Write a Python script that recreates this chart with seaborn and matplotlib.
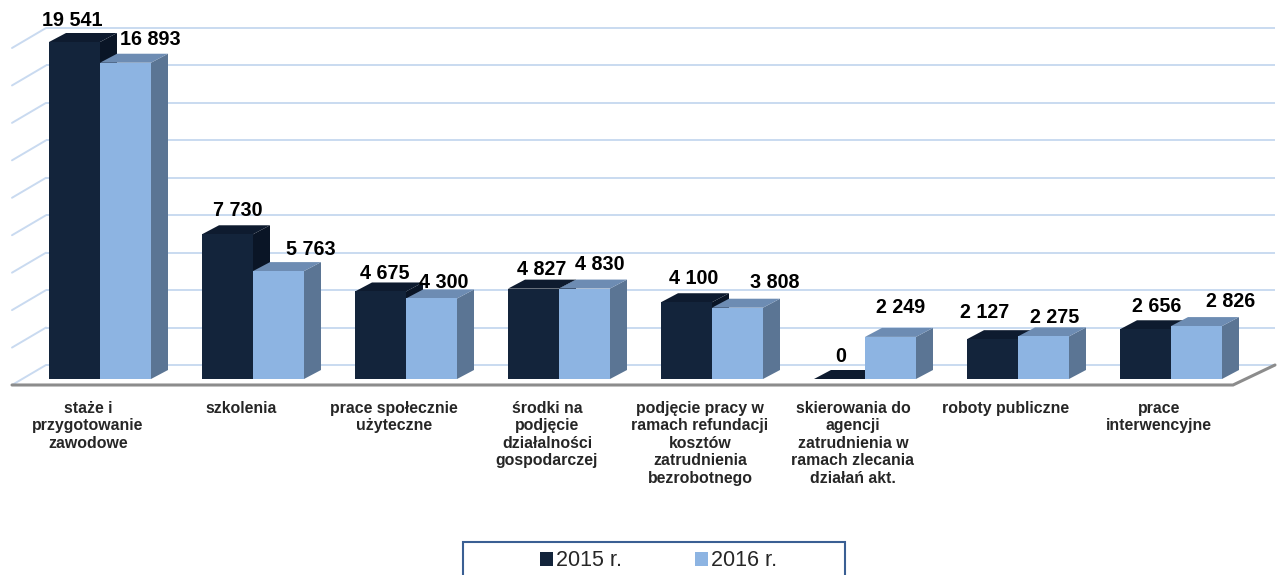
import numpy as np
import pandas as pd
import matplotlib
matplotlib.use("Agg")
import matplotlib.pyplot as plt
from matplotlib.patches import Polygon, Rectangle
from matplotlib.transforms import ScaledTranslation
import seaborn as sns

# ---------------- data ----------------
categories = [
    "staże i\nprzygotowanie\nzawodowe",
    "szkolenia",
    "prace społecznie\nużyteczne",
    "środki na\npodjęcie\ndziałalności\ngospodarczej",
    "podjęcie pracy w\nramach refundacji\nkosztów\nzatrudnienia\nbezrobotnego",
    "skierowania do\nagencji\nzatrudnienia w\nramach zlecania\ndziałań akt.",
    "roboty publiczne",
    "prace\ninterwencyjne",
]
series_names = ["2015 r.", "2016 r."]
values_2015 = [19541, 7730, 4675, 4827, 4100, 0, 2127, 2656]
values_2016 = [16893, 5763, 4300, 4830, 3808, 2249, 2275, 2826]
axis_max = 18000
grid_step = 2000

# ---------------- style ----------------
front_colors = ["#13243B", "#8DB4E2"]
top_colors = ["#0E1B2F", "#6D8CB3"]
side_colors = ["#0A1526", "#5B7594"]
grid_color = "#C9DAF0"

# label nudges in pixels (x from bar centre, y above bar top)
nudge_x = [[-2, 10, 4, 8, 7, 1, -8, 11], [25, 32, 12, 15, 37, 10, 11, 34]]
nudge_y = [[22, 24, 18, 19, 24, 22, 27, 23], [23, 22, 16, 24, 25, 29, 19, 25]]

sns.set_style("white")
plt.rcParams["font.family"] = ["Liberation Sans", "DejaVu Sans"]

W, H, DPI = 1277, 575, 100
fig = plt.figure(figsize=(W / DPI, H / DPI), dpi=DPI)

AX_L, AX_R = 12, 1275      # px
AX_B, AX_T = 379, 42       # px (y from top)
PX_PER_CAT = 153
CENTER0 = 100
ax = fig.add_axes([AX_L / W, 1 - AX_B / H, (AX_R - AX_L) / W, (AX_B - AX_T) / H])
xlim = ((AX_L - CENTER0) / PX_PER_CAT, (AX_R - CENTER0) / PX_PER_CAT)

def px2x(px):
    return xlim[0] + (px - AX_L) / PX_PER_CAT

PX_PER_Y = (AX_B - AX_T) / axis_max

def py2y(py):
    return (AX_B - py) / PX_PER_Y

df = pd.DataFrame({
    "cat": categories * 2,
    "year": [series_names[0]] * len(categories) + [series_names[1]] * len(categories),
    "value": values_2015 + values_2016,
})

sns.barplot(data=df, x="cat", y="value", hue="year", order=categories,
            hue_order=series_names, palette=front_colors, width=2 / 3,
            dodge=True, saturation=1, edgecolor="none", linewidth=0,
            ax=ax, zorder=3)
handles, labels = ax.get_legend_handles_labels()
if ax.get_legend() is not None:
    ax.get_legend().remove()

ax.set_xlim(*xlim)
ax.set_ylim(0, axis_max)
for s in ax.spines.values():
    s.set_visible(False)
ax.set_yticks([])
ax.set_xlabel("")
ax.set_ylabel("")
ax.tick_params(axis="x", length=0, pad=15.5)
ax.set_xticks(range(len(categories)))
ax.set_xticklabels(categories, fontsize=11.4, fontweight="bold",
                   linespacing=1.22, va="top", ha="center")
for lbl in ax.get_xticklabels():
    lbl.set_transform(lbl.get_transform() + ScaledTranslation(-12 / DPI, 0, fig.dpi_scale_trans))

# back wall gridlines and left diagonals
BACK_DY_PX = 14
for g in np.arange(0, axis_max + 1, grid_step):
    yb = g + BACK_DY_PX / PX_PER_Y
    ax.plot([px2x(46), px2x(1275)], [yb, yb], color=grid_color, lw=1.4,
            clip_on=False, zorder=1, solid_capstyle="butt")
    ax.plot([px2x(12), px2x(46)], [yb - 20 / PX_PER_Y, yb], color=grid_color,
            lw=1.4, clip_on=False, zorder=1)

# floor front edge
yf = py2y(385)
ax.plot([px2x(12), px2x(1233), px2x(1275)], [yf, yf, py2y(365)],
        color="#8C8C8C", lw=2.2, clip_on=False, zorder=1.5, solid_joinstyle="miter")

# 3D faces
ddx = 17 / PX_PER_CAT
ddy = 9 / PX_PER_Y
bars = list(ax.patches)
series_vals = [values_2015, values_2016]
for p in bars:
    fc = np.array(p.get_facecolor()[:3])
    k = int(np.argmin([np.abs(fc - np.array(matplotlib.colors.to_rgb(c))).sum() for c in front_colors]))
    x0, w, h = p.get_x(), p.get_width(), p.get_height()
    hc = min(h, axis_max)
    side = Polygon([(x0 + w, 0), (x0 + w + ddx, ddy), (x0 + w + ddx, hc + ddy), (x0 + w, hc)],
                   closed=True, facecolor=side_colors[k], edgecolor="none",
                   clip_on=False, zorder=2)
    top = Polygon([(x0, hc), (x0 + w, hc), (x0 + w + ddx, hc + ddy), (x0 + ddx, hc + ddy)],
                  closed=True, facecolor=top_colors[k], edgecolor="none",
                  clip_on=False, zorder=2.5)
    ax.add_patch(side)
    ax.add_patch(top)

# value labels
for k, vals in enumerate(series_vals):
    for i, v in enumerate(vals):
        xc = i + (k - 0.5) / 3
        hc = min(v, axis_max)
        ax.text(xc + nudge_x[k][i] / PX_PER_CAT, hc + nudge_y[k][i] / PX_PER_Y,
                f"{v:,}".replace(",", " "), ha="center", va="center",
                fontsize=14.2, fontweight="bold", color="black",
                clip_on=False, zorder=5)

# legend
fig.legend(handles, labels, loc="center",
           bbox_to_anchor=((535 + 782) / 2 / W, 1 - 561 / H),
           ncol=2, frameon=False, fontsize=15.5, handlelength=0.6,
           handleheight=0.6, handletextpad=0.15, columnspacing=3.4,
           borderaxespad=0, borderpad=0)
fig.patches.append(Rectangle((463 / W, -0.05), (845 - 463) / W, 0.05 + 1 - 542 / H,
                             transform=fig.transFigure, fill=False,
                             edgecolor="#3A5F93", linewidth=1.5))

fig.savefig("out.png", dpi=DPI)
